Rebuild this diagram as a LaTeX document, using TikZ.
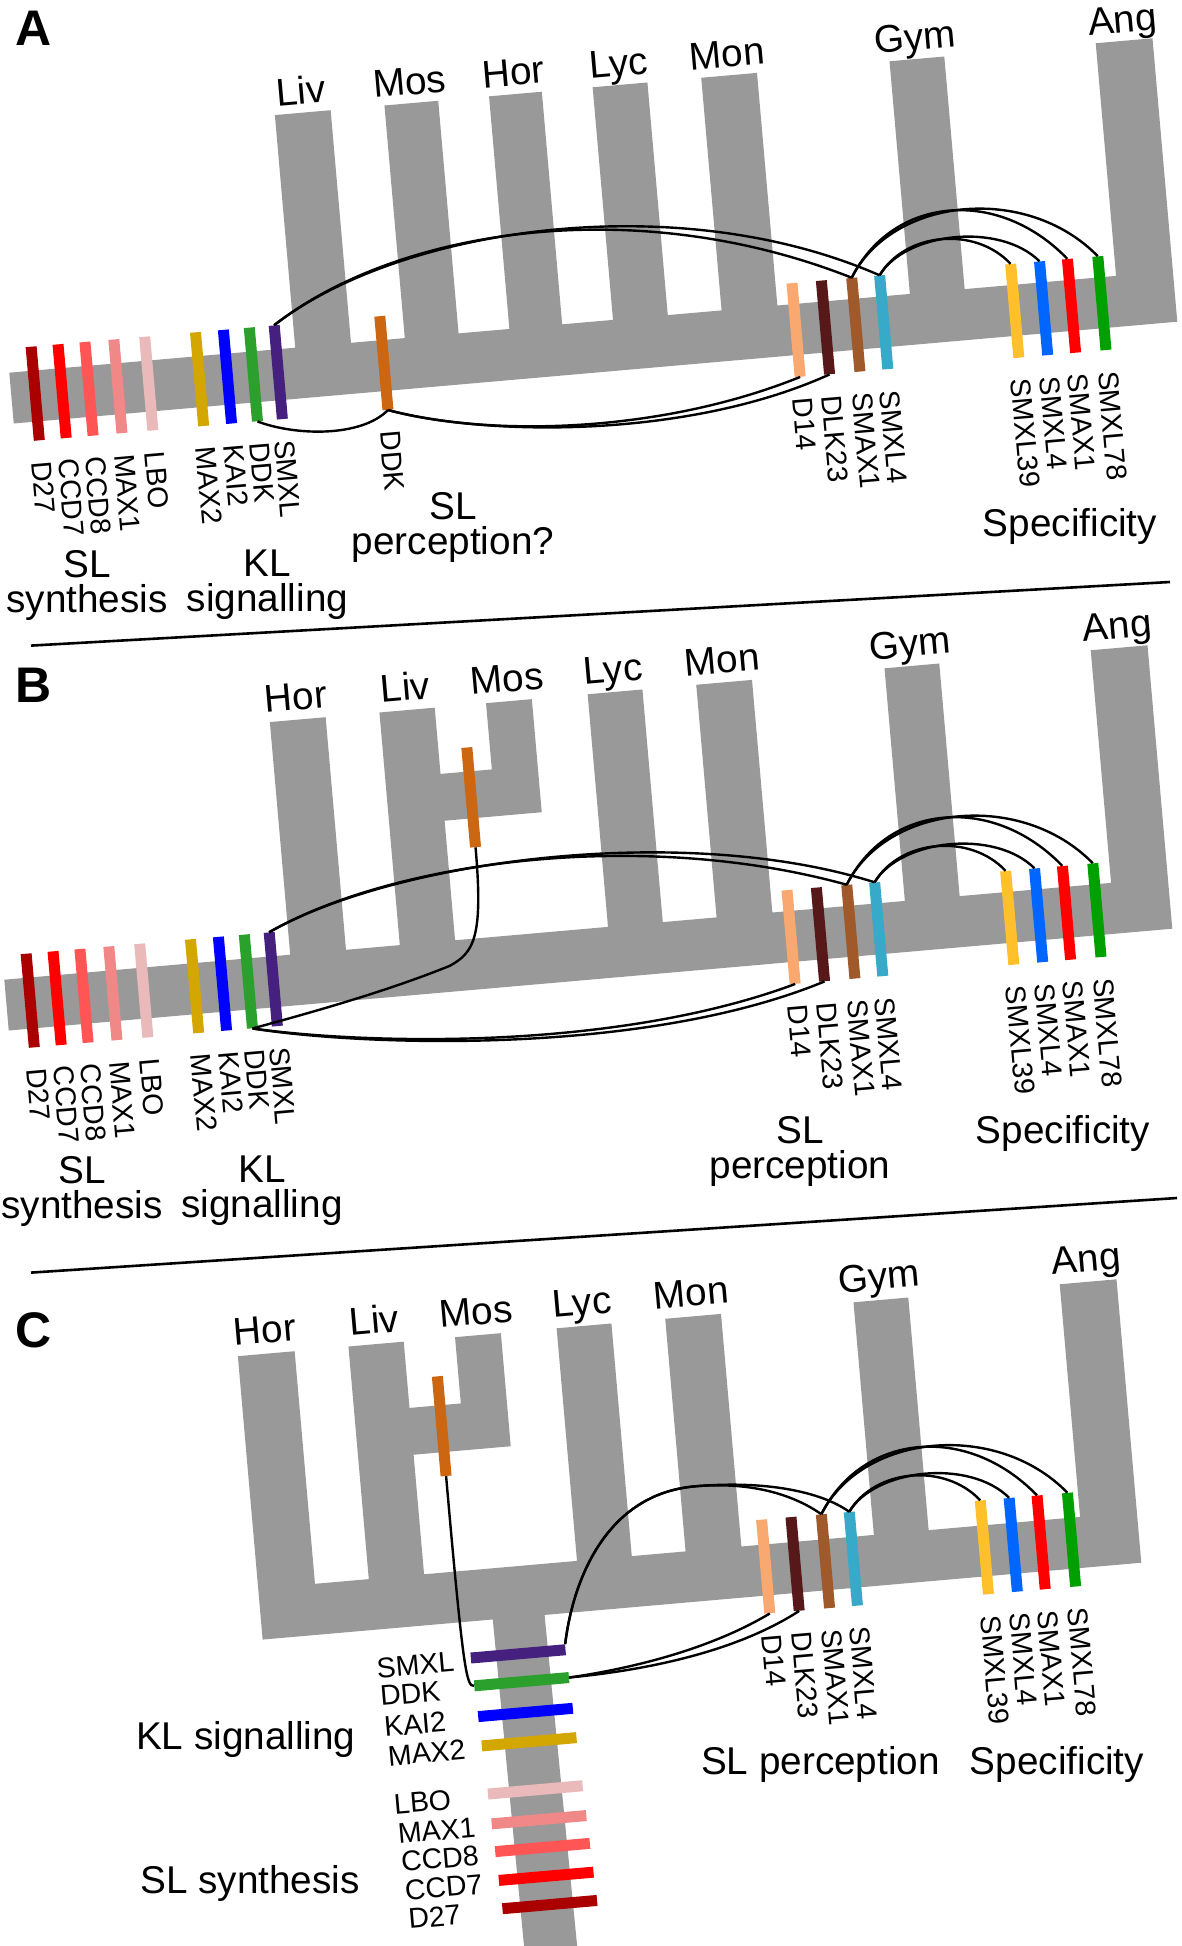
\documentclass[tikz,border=0pt]{standalone}
\usepackage{fontspec}
\setmainfont{Liberation Sans}
\definecolor{treegray}{HTML}{999999}
\definecolor{gD27}{HTML}{AA0000}
\definecolor{gCCD7}{HTML}{FF0000}
\definecolor{gCCD8}{HTML}{FF5555}
\definecolor{gMAX1}{HTML}{F08888}
\definecolor{gLBO}{HTML}{EAB9BA}
\definecolor{gMAX2}{HTML}{D4A600}
\definecolor{gKAI2}{HTML}{0000FF}
\definecolor{gDDK}{HTML}{2CA02C}
\definecolor{gSMXL}{HTML}{45207F}
\definecolor{gDDKo}{HTML}{CC6611}
\definecolor{gD14}{HTML}{F9A86F}
\definecolor{gDLK23}{HTML}{561818}
\definecolor{gSMAX1}{HTML}{A0592A}
\definecolor{gSMXL4}{HTML}{37A9C9}
\definecolor{gSMXL39}{HTML}{FFC02C}
\definecolor{gSMXL4b}{HTML}{0066FF}
\definecolor{gSMAX1r}{HTML}{FF0000}
\definecolor{gSMXL78}{HTML}{00A000}
\newcommand\genefont{\fontsize{28.5}{30}\selectfont}
\newcommand\cladefont{\fontsize{38.7}{35}\selectfont}
\newcommand\panelfont{\fontsize{50}{50}\selectfont\bfseries}

\begin{document}
\begin{tikzpicture}[x=1pt,y=-1pt,
  frameA/.style={shift={(9.3,372.7)},rotate=5,transform shape},
  frameB/.style={shift={(4.3,979.7)},rotate=5,transform shape},
  frameC/.style={shift={(-26.7,1613.7)},rotate=5,transform shape},
  genebar/.style={rectangle,inner sep=0pt,minimum width=11pt,minimum height=94pt,fill=#1},
  stembar/.style={rectangle,inner sep=0pt,minimum width=95pt,minimum height=11pt,fill=#1},
  stemlab/.style={font=\genefont,inner sep=0pt,anchor=west},
  gene/.style={stemlab,rotate=-90},
  clade/.style={font=\cladefont,inner sep=0pt,anchor=base},
  cat/.style={font=\cladefont,inner sep=0pt,align=center},
  letter/.style={font=\panelfont,inner sep=0pt,anchor=base west},
  link/.style={line width=2.4pt},
  rule/.style={line width=2.6pt}]
\useasboundingbox (0,0) rectangle (1182,1946);
\clip (0,0) rectangle (1182,1946);

% trees
\begin{scope}[frameA]
\fill[treegray] (0,51) -- (0,0)
  \foreach \lft/\rgt in {287/343,397/451,502/555,606/661,715/771,904/959}
    { -- (\lft,0) -- (\lft,-233.5) -- (\rgt,-233.5) -- (\rgt,0) }
  -- (1111,0) -- (1111,-233.5) -- (1168,-233.5) -- (1168,51) -- cycle;
\foreach \xx/\lab in {315/Liv,424/Mos,528.5/Hor,633.5/Lyc,743/Mon,931.5/Gym,1139.5/Ang}
  \node[clade] (A\lab) at (\xx,-242) {\lab};
\end{scope}

\begin{scope}[frameB]
\fill[treegray] (0,51) -- (0,0) -- (287,0) -- (287,-233.5) -- (343,-233.5) -- (343,0)
  -- (397,0) -- (397,-233.5) -- (452.5,-233.5) -- (452.5,-167) -- (504,-167)
  -- (504,-233.5) -- (550,-233.5) -- (550,-120) -- (452.5,-120) -- (452.5,0)
  \foreach \lft/\rgt in {606/661,715/771,904/959}
    { -- (\lft,0) -- (\lft,-233.5) -- (\rgt,-233.5) -- (\rgt,0) }
  -- (1111,0) -- (1111,-233.5) -- (1168,-233.5) -- (1168,51) -- cycle;
\foreach \xx/\lab in {315/Hor,425/Liv,527/Mos,633.5/Lyc,743/Mon,931.5/Gym,1139.5/Ang}
  \node[clade] (B\lab) at (\xx,-243) {\lab};
\end{scope}

\begin{scope}[frameC]
\fill[treegray] (286,51) -- (286,-233.5) -- (343,-233.5) -- (343,0)
  -- (397,0) -- (397,-233.5) -- (452.5,-233.5) -- (452.5,-167) -- (504,-167)
  -- (504,-233.5) -- (550,-233.5) -- (550,-120) -- (452.5,-120) -- (452.5,0)
  \foreach \lft/\rgt in {606/661,715/771,904/959}
    { -- (\lft,0) -- (\lft,-233.5) -- (\rgt,-233.5) -- (\rgt,0) }
  -- (1111,0) -- (1111,-233.5) -- (1168,-233.5) -- (1168,51)
  -- (569,51) -- (573,420) -- (520,420) -- (517,51) -- cycle;
\foreach \xx/\lab in {315/Hor,425/Liv,527/Mos,633.5/Lyc,743/Mon,931.5/Gym,1139.5/Ang}
  \node[clade] (C\lab) at (\xx,-244) {\lab};
\end{scope}

% perception and specificity genes, same in every panel
\foreach \p/\ox/\oy/\dx/\dy in {A/9.3/372.7/0/0,B/4.3/979.7/0/0,C/-26.7/1613.7/6/-4}{
  \begin{scope}[shift={(\ox,\oy)},rotate=5,transform shape,shift={(\dx,\dy)}]
  \foreach \g/\txt/\xx in {D14/D14/787.5,DLK23/DLK23/817,SMAX1/SMAX1/847.5,SMXL4/SMXL4/875.5,
      SMXL39/SMXL39/1007,SMXL4b/SMXL4/1036,SMAX1r/SMAX1/1064,SMXL78/SMXL78/1094.5}{
    \node[genebar=g\g] (\p\g) at (\xx,26) {};
    \node[gene] (\p l\g) at (\xx,94) {\txt};
  }
  \draw[link] (\p SMAX1.north) .. controls (895,-98) and (1000,-100) .. (\p SMAX1r.north);
  \draw[link] (\p SMAX1.north) .. controls (895,-98) and (1030,-100) .. (\p SMXL78.north);
  \draw[link] (\p SMXL4.north) .. controls (905,-62) and (975,-62) .. (\p SMXL39.north);
  \draw[link] (\p SMXL4.north) .. controls (905,-62) and (1000,-64) .. (\p SMXL4b.north);
  \end{scope}
}

% panel A
\begin{scope}[frameA]
\foreach \g/\xx in {D27/24,CCD7/51,CCD8/78,MAX1/107,LBO/138,MAX2/189,KAI2/217,DDK/243,SMXL/268}{
  \node[genebar=g\g] (A\g) at (\xx,23) {};
  \node[gene] (Al\g) at (\xx,91) {\g};
}
\node[genebar=gDDKo] (ADDKo) at (374,23) {};
\node[gene] (AlDDKo) at (374,91) {DDK};
\draw[link] (ASMXL.north) .. controls (400,-110) and (640,-125) .. (ASMAX1.north);
\draw[link] (ASMXL.north) .. controls (400,-110) and (680,-128) .. (ASMXL4.north);
\draw[link] (ADDK.south) .. controls (280,88) and (345,95) .. (ADDKo.south);
\draw[link] (ADDKo.south) .. controls (470,105) and (640,118) .. (AD14.south);
\draw[link] (ADDKo.south) .. controls (470,105) and (670,125) .. (ADLK23.south);
\end{scope}

% panel B
\begin{scope}[frameB]
\foreach \g/\xx in {D27/24,CCD7/51,CCD8/78,MAX1/107,LBO/138,MAX2/189,KAI2/217,DDK/243,SMXL/268}{
  \node[genebar=g\g] (B\g) at (\xx,23) {};
  \node[gene] (Bl\g) at (\xx,91) {\g};
}
\node[genebar=gDDKo,minimum height=100pt] (BDDKo) at (481,-141) {};
\coordinate (Bbend) at (445,25);
\draw[link] (BSMXL.north) .. controls (400,-85) and (650,-95) .. (BSMAX1.north);
\draw[link] (BSMXL.north) .. controls (400,-85) and (690,-98) .. (BSMXL4.north);
\draw[link] (BDDKo.south) .. controls (481,0) and (470,14) .. (Bbend)
  .. controls (380,45) and (300,60) .. (BDDK.south);
\draw[link] (BDDK.south) .. controls (350,95) and (600,125) .. (BD14.south);
\draw[link] (BDDK.south) .. controls (350,97) and (630,132) .. (BDLK23.south);
\end{scope}

% panel C
\begin{scope}[frameC]
\foreach \g/\yy/\xx/\lx in {SMXL/87.5/539.3/397,DDK/115.5/540.3/398.1,KAI2/146.5/541.5/399.3,
    MAX2/176/542.6/400.5,LBO/224.5/544.5/402.4,MAX1/254.5/545.6/403.6,CCD8/282.5/546.7/404.6,
    CCD7/311.5/547.8/405.7,D27/340/548.9/406.8}{
  \node[stembar=g\g] (C\g) at (\xx,\yy) {};
  \node[stemlab] (Cl\g) at (\lx,\yy+2) {\g};
}
\node[genebar=gDDKo,minimum height=100pt] (CDDKo) at (483,-146) {};
\coordinate (Cpeak) at (730,-64);
\draw[link] (CSMXL.north east) .. controls (600,20) and (640,-64) .. (Cpeak)
  .. controls (790,-64) and (830,-45) .. (CSMAX1.north);
\draw[link] (CSMXL.north east) .. controls (600,20) and (640,-64) .. (Cpeak)
  .. controls (800,-64) and (855,-48) .. (CSMXL4.north);
\draw[link] (CDDK.east) .. controls (650,112) and (730,100) .. (CD14.south);
\draw[link] (CDDK.east) .. controls (650,115) and (750,108) .. (CDLK23.south);
\draw[link] (CDDKo.south) .. controls (483,100) and (485,116) .. (CDDK.west);
\end{scope}

% letters, separators, group labels
\node[letter] (pA) at (15,45.5) {A};
\node[letter] (pB) at (15,702.5) {B};
\node[letter] (pC) at (15,1347) {C};
\draw[rule] (31,645.6) -- (1170,582);
\draw[rule] (31,1272.6) -- (1177,1198);

\node[cat,anchor=north] (synA) at (87,550) {SL\\synthesis};
\node[cat,anchor=north] (klA) at (267.5,550) {KL\\signalling};
\node[cat,anchor=north] (perA) at (453,492) {SL\\perception?};
\node[cat,anchor=base] (spA) at (1070,536) {Specificity};
\node[cat,anchor=north] (synB) at (82,1156) {SL\\synthesis};
\node[cat,anchor=north] (klB) at (262,1156) {KL\\signalling};
\node[cat,anchor=north] (perB) at (800,1116) {SL\\perception};
\node[cat,anchor=base] (spB) at (1063,1143) {Specificity};
\node[cat,anchor=base] (klC) at (245.8,1749.5) {KL signalling};
\node[cat,anchor=base] (synC) at (250,1893.5) {SL synthesis};
\node[cat,anchor=base] (perC) at (820.5,1774) {SL perception};
\node[cat,anchor=base] (spC) at (1057,1774) {Specificity};
\end{tikzpicture}
\end{document}
